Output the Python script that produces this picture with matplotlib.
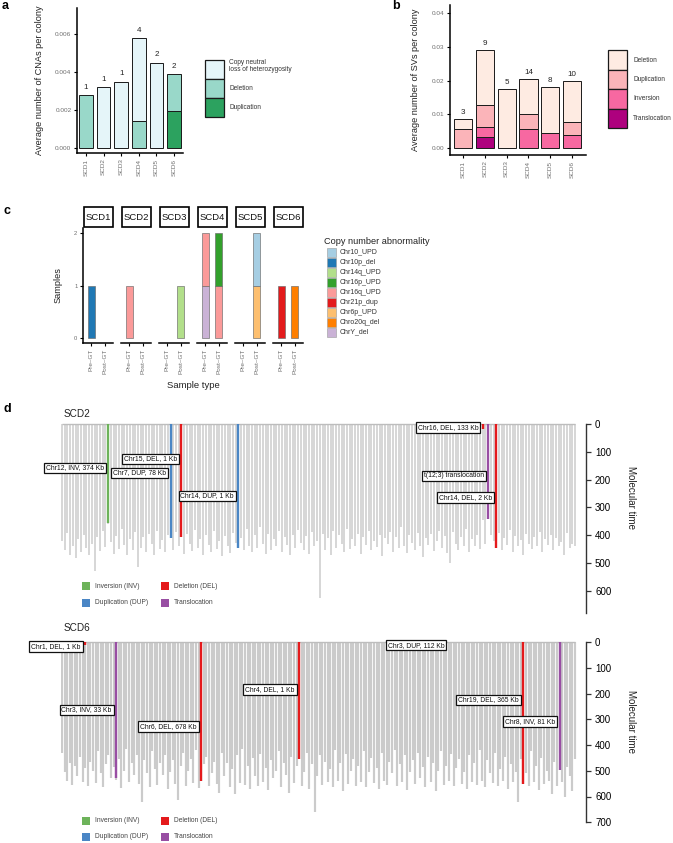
import matplotlib
matplotlib.use('Agg')
import matplotlib.pyplot as plt
from matplotlib.patches import Rectangle
import numpy as np

plt.rcParams['font.family'] = ['Liberation Sans', 'DejaVu Sans']

# ---------------- data ----------------
samples = ['SCD1', 'SCD2', 'SCD3', 'SCD4', 'SCD5', 'SCD6']

# panel a: CNAs per colony (stack bottom -> top: duplication, deletion, CN-LOH)
cna_types = ['Copy neutral\nloss of heterozygosity', 'Deletion', 'Duplication']
cna_colors = ['#E5F5F9', '#99D8C9', '#2CA25F']
cna_loh = [0.0, 0.0032, 0.0035, 0.00435, 0.0045, 0.0]
cna_del = [0.0028, 0.0, 0.0, 0.00145, 0.0, 0.00195]
cna_dup = [0.0, 0.0, 0.0, 0.0, 0.0, 0.00195]
cna_counts = [1, 1, 1, 4, 2, 2]

# panel b: SVs per colony (stack bottom -> top: translocation, inversion, duplication, deletion)
sv_types = ['Deletion', 'Duplication', 'Inversion', 'Translocation']
sv_colors = ['#FEEBE2', '#FBB4B9', '#F768A1', '#AE017E']
sv_del = [0.0028, 0.0162, 0.0175, 0.0103, 0.0135, 0.0121]
sv_dup = [0.0057, 0.0065, 0.0, 0.0045, 0.0, 0.0039]
sv_inv = [0.0, 0.0031, 0.0, 0.0057, 0.0045, 0.0039]
sv_tra = [0.0, 0.0032, 0.0, 0.0, 0.0, 0.0]
sv_counts = [3, 9, 5, 14, 8, 10]

# panel c: copy number abnormalities by sample type (each record = 1 sample; listed bottom -> top)
cn_abn = ['Chr10_UPD', 'Chr10p_del', 'Chr14q_UPD', 'Chr16p_UPD', 'Chr16q_UPD',
          'Chr21p_dup', 'Chr6p_UPD', 'Chro20q_del', 'ChrY_del']
cn_colors = ['#A6CEE3', '#1F78B4', '#B2DF8A', '#33A02C', '#FB9A99',
             '#E31A1C', '#FDBF6F', '#FF7F00', '#CAB2D6']
sample_types = ['Pre\u2013GT', 'Post\u2013GT']
c_sample = ['SCD1', 'SCD2', 'SCD3', 'SCD4', 'SCD4', 'SCD4', 'SCD4', 'SCD5', 'SCD5', 'SCD6', 'SCD6']
c_type = [0, 0, 1, 0, 0, 1, 1, 1, 1, 0, 1]
c_abn = ['Chr10p_del', 'Chr16q_UPD', 'Chr14q_UPD', 'ChrY_del', 'Chr16q_UPD', 'Chr16q_UPD',
         'Chr16p_UPD', 'Chr6p_UPD', 'Chr10_UPD', 'Chr21p_dup', 'Chro20q_del']

# panel d: phylogenies (tip molecular time) and SVs on branches
sv_legend = ['Inversion (INV)', 'Deletion (DEL)', 'Duplication (DUP)', 'Translocation']
sv_leg_colors = ['#6DB35A', '#E41A1C', '#4A86C5', '#984EA3']
sv_col_map = {'INV': '#6DB35A', 'DEL': '#E41A1C', 'DUP': '#4A86C5', 'TRA': '#984EA3'}

scd2_tips = [420, 455, 392, 470, 438, 482, 415, 462, 398, 447,
             472, 431, 528, 406, 456, 386, 441, 360, 425, 466,
             402, 450, 378, 436, 470, 412, 455, 390, 515, 445,
             408, 462, 395, 430, 472, 385, 448, 418, 460, 400,
             410, 452, 388, 440, 407, 468, 395, 430, 458, 380,
             445, 412, 470, 398, 436, 460, 385, 450, 420, 475,
             402, 440, 465, 392, 428, 447, 410, 455, 376, 438,
             462, 400, 445, 372, 430, 468, 395, 452, 415, 440,
             385, 460, 408, 436, 470, 398, 445, 380, 428, 455,
             402, 466, 390, 440, 420, 626, 395, 452, 410, 470,
             385, 445, 400, 432, 462, 378, 448, 415, 440, 395,
             468, 405, 436, 385, 455, 420, 442, 398, 475, 410,
             430, 388, 460, 405, 445, 372, 438, 465, 400, 428,
             452, 392, 440, 480, 410, 436, 395, 458, 420, 385,
             445, 402, 465, 500, 390, 432, 455, 408, 440, 378,
             462, 415, 438, 400, 450, 345, 430, 342, 400, 420,
             445, 392, 455, 410, 436, 380, 460, 402, 440, 418,
             470, 395, 432, 450, 405, 440, 388, 462, 415, 435,
             398, 455, 410, 440, 425, 470, 392, 445, 430, 440]
scd2_sv_tip = [17, 40, 44, 65, 155, 157, 160]
scd2_sv_time = [356, 410, 407, 447, 18, 342, 445]
scd2_sv_type = ['INV', 'DUP', 'DEL', 'DUP', 'DEL', 'TRA', 'DEL']
scd2_sv_label = ['Chr12, INV, 374 Kb', 'Chr7, DUP, 78 Kb', 'Chr15, DEL, 1 Kb', 'Chr14, DUP, 1 Kb',
                 'Chr16, DEL, 133 Kb', 't(12;3) translocation', 'Chr14, DEL, 2 Kb']
scd2_label_time = [158, 176, 126, 259, 12, 187, 264]

scd6_tips = [430, 505, 540, 470, 555, 480, 520, 445, 545, 490,
             560, 465, 500, 548, 425, 510, 562, 475, 440, 530,
             485, 535, 455, 566, 500, 415, 545, 470, 518, 440,
             550, 620, 460, 508, 565, 425, 495, 555, 470, 515,
             440, 570, 505, 460, 550, 615, 480, 430, 560, 500,
             455, 548, 420, 568, 541, 475, 445, 560, 510, 465,
             552, 585, 430, 520, 470, 565, 495, 590, 440, 548,
             415, 555, 480, 570, 450, 520, 560, 435, 545, 490,
             575, 460, 530, 500, 425, 562, 470, 515, 585, 445,
             548, 480, 455, 560, 505, 430, 570, 475, 660, 520,
             440, 555, 465, 545, 495, 565, 420, 540, 470, 580,
             435, 550, 500, 455, 560, 480, 545, 425, 565, 505,
             450, 548, 490, 570, 430, 540, 555, 465, 510, 420,
             560, 475, 545, 440, 575, 505, 460, 550, 430, 530,
             485, 565, 445, 545, 470, 580, 500, 425, 555, 480,
             540, 435, 560, 490, 455, 550, 505, 570, 440, 545,
             470, 555, 420, 540, 565, 460, 510, 548, 430, 560,
             495, 540, 445, 570, 475, 545, 505, 620, 455, 553,
             510, 560, 425, 545, 480, 575, 450, 550, 500, 540,
             590, 465, 560, 430, 545, 600, 485, 520, 580, 455]
scd6_sv_tip = [9, 21, 54, 92, 150, 179, 193]
scd6_sv_time = [10, 529, 541, 455, 0, 553, 498]
scd6_sv_type = ['DEL', 'TRA', 'DEL', 'DEL', 'DUP', 'DEL', 'TRA']
scd6_sv_label = ['Chr1, DEL, 1 Kb', 'Chr3, INV, 33 Kb', 'Chr6, DEL, 678 Kb', 'Chr4, DEL, 1 Kb',
                 'Chr3, DUP, 112 Kb', 'Chr19, DEL, 365 Kb', 'Chr8, INV, 81 Kb']
scd6_label_time = [16, 264, 329, 186, 12, 225, 310]

# ---------------- figure ----------------
W, H = 673, 843
fig = plt.figure(figsize=(W / 100, H / 100), dpi=100)


def px_axes(x0, y0, x1, y1):
    return fig.add_axes([x0 / W, 1 - y1 / H, (x1 - x0) / W, (y1 - y0) / H])


TICK_GRAY = '#6e6e6e'
AX_LW = 1.1


def classic(ax):
    for s in ['top', 'right']:
        ax.spines[s].set_visible(False)
    for s in ['left', 'bottom']:
        ax.spines[s].set_linewidth(AX_LW)
        ax.spines[s].set_color('black')
    ax.tick_params(length=2.5, width=0.8, color='black', labelcolor=TICK_GRAY, labelsize=4.6, pad=1.5)
    ax.patch.set_alpha(0)


def stacked(ax, layers, colors, width):
    x = np.arange(len(samples))
    bottom = np.zeros(len(samples))
    for vals, col in zip(layers, colors):
        vals = np.array(vals)
        m = vals > 0
        ax.bar(x[m], vals[m], width, bottom=bottom[m], color=col, edgecolor='#1a1a1a', linewidth=0.7)
        bottom += vals
    return bottom


# ---- panel a
axa = px_axes(77, 8, 183, 153)
classic(axa)
tot_a = stacked(axa, [cna_dup, cna_del, cna_loh], [cna_colors[2], cna_colors[1], cna_colors[0]], 0.78)
for i, (t, c) in enumerate(zip(tot_a, cna_counts)):
    axa.annotate(str(c), (i, t), xytext=(0, 3), textcoords='offset points', ha='center', va='bottom',
                 fontsize=5.8, color='#222222')
axa.set_xlim(-0.51, 5.51)
axa.set_ylim(-0.00026, 0.00737)
axa.set_yticks([0, 0.002, 0.004, 0.006])
axa.set_yticklabels(['0.000', '0.002', '0.004', '0.006'])
axa.set_xticks(range(6))
axa.set_xticklabels(samples, rotation=90)
axa.set_ylabel('Average number of CNAs per colony', fontsize=6.6, color='#222222')
axa.yaxis.set_label_coords(-0.31, 0.5)

# ---- panel b
axb = px_axes(450, 5, 586, 155)
classic(axb)
tot_b = stacked(axb, [sv_tra, sv_inv, sv_dup, sv_del], [sv_colors[3], sv_colors[2], sv_colors[1], sv_colors[0]], 0.83)
for i, (t, c) in enumerate(zip(tot_b, sv_counts)):
    axb.annotate(str(c), (i, t), xytext=(0, 2.5), textcoords='offset points', ha='center', va='bottom',
                 fontsize=5.8, color='#222222')
axb.set_xlim(-0.6, 5.64)
axb.set_ylim(-0.0021, 0.0425)
axb.set_yticks([0, 0.01, 0.02, 0.03, 0.04])
axb.set_yticklabels(['0.00', '0.01', '0.02', '0.03', '0.04'])
axb.set_xticks(range(6))
axb.set_xticklabels(samples, rotation=90)
axb.set_ylabel('Average number of SVs per colony', fontsize=6.6, color='#222222')
axb.yaxis.set_label_coords(-0.22, 0.5)

# ---- panel c
facet_x = [83, 121, 159, 197, 235, 273]
ov = px_axes(0, 0, W, H)
ov.set_xlim(0, W)
ov.set_ylim(H, 0)
ov.axis('off')
ov.set_zorder(10)

for k, s in enumerate(samples):
    x0 = facet_x[k]
    ax = px_axes(x0, 228, x0 + 30, 343)
    classic(ax)
    bottoms = [0, 0]
    for smp, t, a in zip(c_sample, c_type, c_abn):
        if smp != s:
            continue
        ax.bar(t, 1, 0.5, bottom=bottoms[t], color=cn_colors[cn_abn.index(a)],
               edgecolor='#6a6a6a', linewidth=0.45)
        bottoms[t] += 1
    ax.set_xlim(-0.6, 1.6)
    ax.set_ylim(-0.1, 2.1)
    ax.set_xticks([0, 1])
    ax.set_xticklabels(sample_types, rotation=90, fontsize=4.6)
    if k == 0:
        ax.set_yticks([0, 1, 2])
        ax.tick_params(axis='y', labelsize=4.2)
        ax.set_ylabel('Samples', fontsize=6.6, color='#222222')
        ax.yaxis.set_label_coords(-0.68, 0.5)
    else:
        ax.spines['left'].set_visible(False)
        ax.set_yticks([])
    # strip
    ov.add_patch(Rectangle((x0 + 0.5, 207), 29, 20, facecolor='white', edgecolor='black', lw=1.2))
    ov.text(x0 + 15, 217.5, s, ha='center', va='center', fontsize=6.8, color='#111111')

ov.text(193, 385, 'Sample type', ha='center', va='center', fontsize=6.8, color='#222222')
ov.text(324, 241, 'Copy number abnormality', ha='left', va='center', fontsize=6.6, color='#222222')
for j, (lab, col) in enumerate(zip(cn_abn, cn_colors)):
    yy = 247 + j * 10
    ov.add_patch(Rectangle((327, yy + 0.5), 9, 9, facecolor=col, edgecolor='#9a9a9a', lw=0.4))
    ov.text(340, yy + 5.2, lab, ha='left', va='center', fontsize=5.0, color='#333333')

# legend a
leg_a_y = [60, 79, 98]
for yy, col in zip(leg_a_y, cna_colors):
    ov.add_patch(Rectangle((205, yy), 19, 19, facecolor=col, edgecolor='#1a1a1a', lw=0.9))
for yy, lab in zip(leg_a_y, cna_types):
    ov.text(229, yy + 9.5 if '\n' not in lab else yy + 6, lab, ha='left', va='center', fontsize=4.7,
            color='#333333', linespacing=1.05)

# legend b
for j, (lab, col) in enumerate(zip(sv_types, sv_colors)):
    yy = 50 + j * 19.5
    ov.add_patch(Rectangle((608, yy), 19, 19.5, facecolor=col, edgecolor='#1a1a1a', lw=0.9))
    ov.text(633, yy + 10, lab, ha='left', va='center', fontsize=4.7, color='#333333')

# panel letters
for lab, xx, yy in [('a', 2, 6), ('b', 392, 6), ('c', 3, 211), ('d', 3, 409)]:
    ov.text(xx, yy, lab, ha='left', va='center', fontsize=9, fontweight='bold', color='black')

# ---- panel d trees
TREE_GRAY = '#cbcbcb'


def draw_tree(title, tips, sv_tip, sv_time, sv_type, sv_label, lab_time,
              y0, ppu, ymax, title_y, tip_lw, leg_y, ylab_y, ticks):
    n = len(tips)
    sp = (575 - 62) / (n - 1)
    x_left = 62 - 0.5 * sp
    top_units = 14
    ax = px_axes(x_left, y0 - top_units * ppu, 586, y0 + ymax * ppu)
    ax.set_xlim(-0.5, (586 - 62) / sp)
    ax.set_ylim(ymax, -top_units)
    ax.patch.set_alpha(0)
    for s in ['top', 'left', 'bottom']:
        ax.spines[s].set_visible(False)
    ax.spines['right'].set_bounds(0, ymax)
    ax.spines['right'].set_linewidth(1.0)
    ax.spines['right'].set_color('#333333')
    ax.set_xticks([])
    ax.yaxis.tick_right()
    ax.set_yticks(ticks)
    ax.tick_params(axis='y', length=3.5, width=0.9, color='#333333', labelsize=7, pad=3)
    xs = np.arange(n)
    ax.vlines(xs, 0, tips, color=TREE_GRAY, lw=tip_lw)
    ax.hlines(0, 0, n - 1, color='#bdbdbd', lw=1.0)
    for t, d, ty, lab, lt in zip(sv_tip, sv_time, sv_type, sv_label, lab_time):
        if d > 0:
            ax.vlines(t, 0, d, color=sv_col_map[ty], lw=1.7)
        ax.annotate(lab, (t, lt), xytext=(-3.2, 0), textcoords='offset points', ha='right', va='center',
                    fontsize=4.9, color='#111111', annotation_clip=False,
                    bbox=dict(boxstyle='square,pad=0.28', fc='white', ec='#111111', lw=0.9))
    ov.text(64, title_y, title, ha='left', va='center', fontsize=7.2, color='#222222')
    ov.text(631, ylab_y, 'Molecular time', ha='center', va='center', rotation=270, fontsize=7,
            color='#222222')
    # legend
    pos = [(82, leg_y[0]), (161, leg_y[0]), (82, leg_y[1]), (161, leg_y[1])]
    for (lx, ly), lab, col in zip(pos, sv_legend, sv_leg_colors):
        ov.add_patch(Rectangle((lx, ly - 4), 8, 8, facecolor=col, edgecolor='none'))
        ov.text(lx + 13, ly, lab, ha='left', va='center', fontsize=4.8, color='#444444')


draw_tree('SCD2', scd2_tips, scd2_sv_tip, scd2_sv_time, scd2_sv_type, scd2_sv_label, scd2_label_time,
          424, 0.278, 680, 414, 1.1, (586, 603), 498, [0, 100, 200, 300, 400, 500, 600])
draw_tree('SCD6', scd6_tips, scd6_sv_tip, scd6_sv_time, scd6_sv_type, scd6_sv_label, scd6_label_time,
          642, 0.2575, 700, 628, 1.55, (821, 837), 722, [0, 100, 200, 300, 400, 500, 600, 700])

fig.savefig('out.png', dpi=100)
